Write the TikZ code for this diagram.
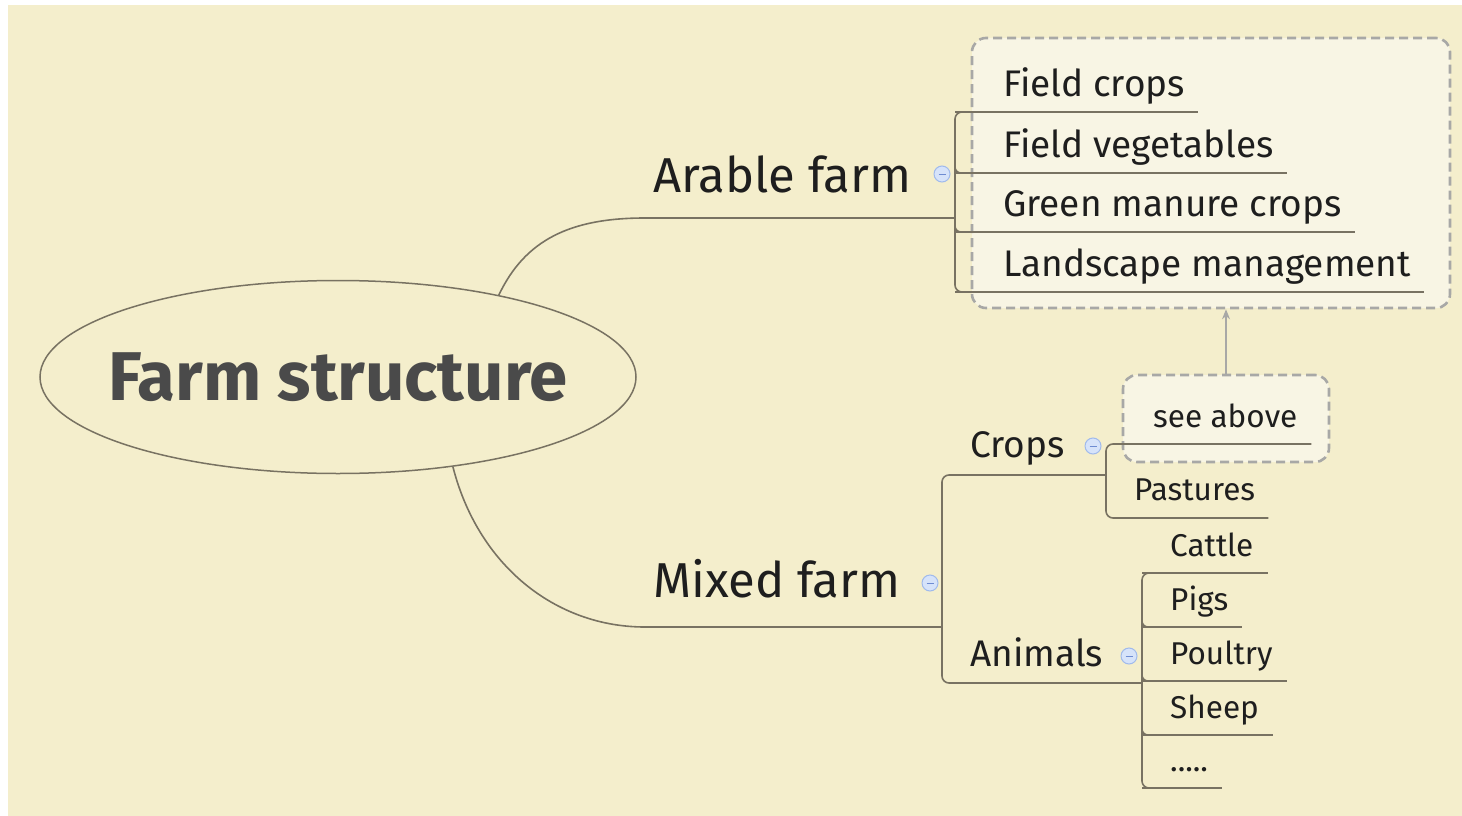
\documentclass[tikz,border=0pt]{standalone}
\usepackage{fontspec}
\setmainfont{Fira Sans}
\usepackage{xcolor}
\usetikzlibrary{arrows.meta, positioning, shapes.geometric, calc}

\definecolor{paper}{RGB}{244,238,204}
\definecolor{boxfill}{RGB}{248,245,228}
\definecolor{branch}{RGB}{120,114,98}
\definecolor{dashgray}{RGB}{168,168,166}
\definecolor{knobfill}{RGB}{214,227,250}
\definecolor{knobline}{RGB}{160,186,236}
\definecolor{knobminus}{RGB}{110,140,210}
\definecolor{titlegray}{RGB}{74,74,74}
\definecolor{inkdark}{RGB}{30,30,30}

\newcommand{\moredots}{.....}

\tikzset{
  branch line/.style={draw=branch, line width=1.6pt},
  groupbox/.style={draw=dashgray, fill=boxfill, line width=2.6pt, dash pattern=on 9pt off 5pt, rounded corners=14pt, inner sep=0pt},
  topic/.style={anchor=base west, inner sep=0pt, text=inkdark, font=\fontsize{49}{56}\selectfont},
  subtopic/.style={topic, font=\fontsize{37}{42}\selectfont},
  leaf/.style={topic, font=\fontsize{31.5}{37}\selectfont},
  knob/.style={circle, draw=knobline, fill=knobfill, line width=1pt, minimum size=16pt, inner sep=0pt,
    path picture={\draw[knobminus, line width=1pt] ([xshift=-3.5pt]path picture bounding box.center) -- ([xshift=3.5pt]path picture bounding box.center);}}
}

\begin{document}
\begin{tikzpicture}[x=1pt, y=-1pt, >=Stealth]
% Paper
\fill[white] (0,0) rectangle (1462,816);
\fill[paper] (8,5) rectangle (1462,816);
\useasboundingbox (0,0) rectangle (1462,816);

% Dashed group boxes
\node[groupbox, minimum width=478pt, minimum height=270pt] (arablebox) at (1211,173) {};
\node[groupbox, minimum width=206pt, minimum height=87pt] (seebox) at (1226,418.5) {};
\draw[->, draw=dashgray, line width=1.2pt, >={Stealth[length=10pt, width=8pt]}] (seebox.north) -- (seebox.north |- arablebox.south);

% Central topic
\node[ellipse, draw=branch, line width=1.5pt, minimum width=596pt, minimum height=193pt, inner sep=0pt] (farm) at (338,377) {};
\node[font=\fontsize{69}{80}\selectfont\bfseries, text=titlegray, inner sep=0pt] (farmtitle) at (farm.center) {Farm structure};

% Arable farm
\coordinate (arablejoin) at (955,218);
\draw[branch line] (farm.27) .. controls (525,240) and (570,218) .. (645,218) -- (arablejoin);
\node[topic] (arable) at (653,192) {Arable farm};
\node[knob] (arableknob) at (942,174) {};

\foreach \n/\t/\y in {fieldcrops/Field crops/96, fieldveg/Field vegetables/157, manure/Green manure crops/216, landscape/Landscape management/276} {
    \node[subtopic] (\n) at (1003,\y) {\t};
    \coordinate (\n-in) at (955,\y+16);
    \draw[branch line] (\n-in) -- ($(\n.base east)+(13,16)$);
}
\draw[branch line, rounded corners=7pt] ($(fieldcrops-in)+(14,0)$) -- (fieldcrops-in) -- (landscape-in) -- ++(14,0);
\foreach \n in {fieldveg, manure}
    \draw[branch line, rounded corners=6pt] ($(\n-in)+(0,-12)$) -- (\n-in) -- ++(12,0);

% Mixed farm
\coordinate (mixedjoin) at (942,627);
\draw[branch line] (farm.-38) .. controls (478,565) and (555,627) .. (645,627) -- (mixedjoin);
\node[topic] (mixed) at (653,597) {Mixed farm};
\node[knob] (mixedknob) at (930,583) {};

\node[subtopic] (crops) at (970,457) {Crops};
\node[subtopic] (animals) at (970,666) {Animals};
\coordinate (crops-in) at (942,475);
\coordinate (animals-in) at (942,683);
\coordinate (cropsjoin) at (1106,475);
\coordinate (animalsjoin) at (1142,683);
\draw[branch line, rounded corners=7pt] (cropsjoin) -- (crops-in) -- (animals-in) -- (animalsjoin);
\node[knob] (cropsknob) at (1093,446) {};
\node[knob] (animalsknob) at (1129,656) {};

% Crops children
\node[leaf] (seeabove) at (1153,427) {see above};
\node[leaf] (pastures) at (1134,500) {Pastures};
\coordinate (seeabove-in) at (1106,444);
\coordinate (pastures-in) at (1106,518);
\draw[branch line, rounded corners=7pt] ($(seeabove.base east)+(14,17)$) -- (seeabove-in) -- (pastures-in) -- ($(pastures.base east)+(13,18)$);

% Animals children
\foreach \n/\t/\y in {cattle/Cattle/556, pigs/Pigs/610, poultry/Poultry/664, sheep/Sheep/718, more/\moredots/771} {
    \node[leaf] (\n) at (1170,\y) {\t};
    \coordinate (\n-in) at (1142,\y+17);
    \draw[branch line] (\n-in) -- ($(\n.base east)+(14,17)$);
}
\draw[branch line, rounded corners=7pt] ($(cattle-in)+(14,0)$) -- (cattle-in) -- (more-in) -- ++(14,0);
\foreach \n in {pigs, poultry, sheep}
    \draw[branch line, rounded corners=6pt] ($(\n-in)+(0,-12)$) -- (\n-in) -- ++(12,0);

\end{tikzpicture}
\end{document}
